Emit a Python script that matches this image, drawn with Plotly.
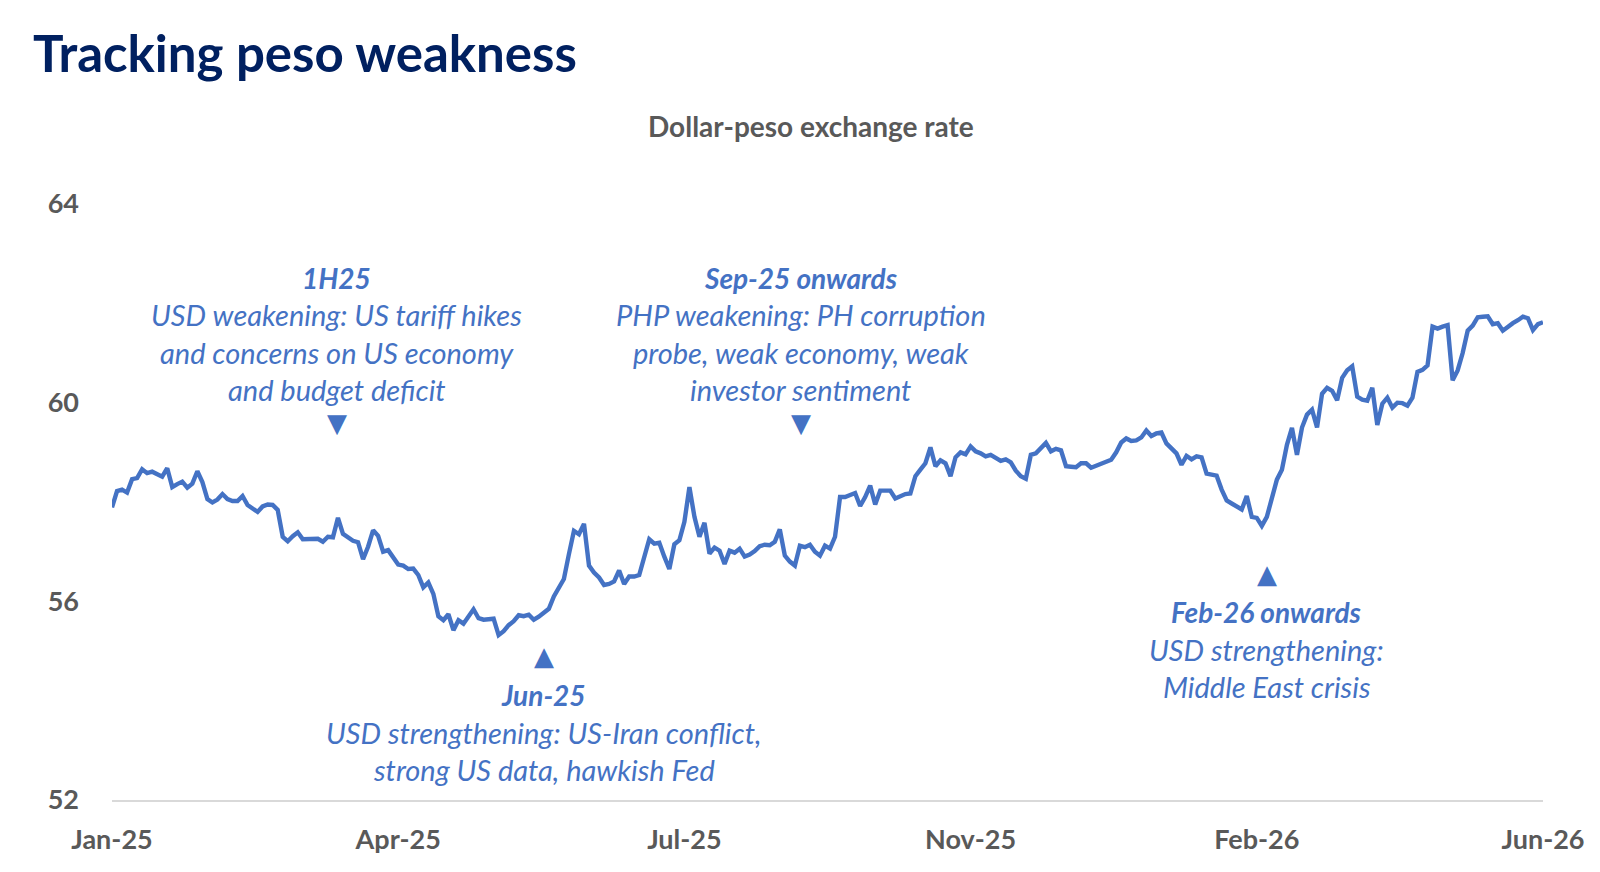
import plotly.graph_objects as go

# Dollar-peso rate, one reading per trading-day step
usd_php = [
    57.89, 58.22, 58.25, 58.19, 58.46, 58.48, 58.66, 58.58, 58.61, 58.56,
    58.51, 58.68, 58.30, 58.36, 58.41, 58.29, 58.37, 58.62, 58.40, 58.06,
    57.99, 58.05, 58.16, 58.06, 58.02, 58.02, 58.12, 57.94, 57.88, 57.80,
    57.91, 57.95, 57.94, 57.84, 57.30, 57.21, 57.31, 57.39, 57.25, 57.26,
    57.26, 57.26, 57.20, 57.30, 57.29, 57.68, 57.36, 57.30, 57.22, 57.19,
    56.85, 57.10, 57.43, 57.32, 57.00, 57.03, 56.90, 56.74, 56.72, 56.65,
    56.66, 56.53, 56.28, 56.38, 56.15, 55.70, 55.62, 55.74, 55.42, 55.62,
    55.55, 55.70, 55.84, 55.66, 55.63, 55.64, 55.65, 55.32, 55.40, 55.52,
    55.60, 55.72, 55.70, 55.73, 55.63, 55.69, 55.76, 55.85, 56.10, 56.28,
    56.45, 56.95, 57.42, 57.35, 57.56, 56.72, 56.58, 56.48, 56.33, 56.35,
    56.40, 56.62, 56.35, 56.50, 56.50, 56.53, 56.90, 57.25, 57.16, 57.18,
    56.90, 56.65, 57.15, 57.23, 57.60, 58.30, 57.70, 57.30, 57.58, 56.96,
    57.08, 57.02, 56.75, 57.02, 56.98, 57.06, 56.90, 56.94, 57.01, 57.11,
    57.14, 57.13, 57.20, 57.45, 56.92, 56.80, 56.72, 57.12, 57.09, 57.14,
    57.00, 56.92, 57.12, 57.06, 57.30, 58.10, 58.10, 58.13, 58.18, 57.92,
    58.10, 58.33, 57.95, 58.23, 58.23, 58.23, 58.07, 58.12, 58.16, 58.17,
    58.52, 58.65, 58.78, 59.10, 58.72, 58.84, 58.78, 58.52, 58.90, 59.00,
    58.96, 59.12, 59.02, 58.98, 58.92, 58.95, 58.88, 58.83, 58.86, 58.80,
    58.63, 58.52, 58.47, 58.95, 58.98, 59.09, 59.19, 59.02, 59.07, 59.04,
    58.72, 58.71, 58.70, 58.78, 58.78, 58.69, 58.73, 58.78, 58.80, 58.85,
    59.00, 59.20, 59.28, 59.23, 59.24, 59.30, 59.44, 59.33, 59.38, 59.40,
    59.18, 59.07, 58.98, 58.75, 58.93, 58.86, 58.92, 58.90, 58.57, 58.55,
    58.53, 58.25, 58.03, 57.97, 57.90, 57.85, 58.12, 57.70, 57.68, 57.52,
    57.70, 58.08, 58.45, 58.65, 59.15, 59.49, 58.95, 59.50, 59.76, 59.86,
    59.50, 60.18, 60.30, 60.24, 60.05, 60.50, 60.65, 60.73, 60.12, 60.06,
    60.04, 60.30, 59.55, 59.98, 60.10, 59.90, 60.00, 59.99, 59.94, 60.10,
    60.62, 60.66, 60.75, 61.53, 61.49, 61.53, 61.56, 60.45, 60.65, 61.00,
    61.45, 61.55, 61.72, 61.73, 61.74, 61.58, 61.60, 61.45, 61.53, 61.60,
    61.66, 61.73, 61.70, 61.46, 61.58, 61.62,
]
days = list(range(len(usd_php)))

tick_labels = ['Jan-25', 'Apr-25', 'Jul-25', 'Nov-25', 'Feb-26', 'Jun-26']
tick_days = [0, 57, 114, 171, 228, 285]
y_ticks = [52, 56, 60, 64]

# Annotation blocks: heading, body lines, marker direction
note_heads = ['1H25', 'Sep-25 onwards', 'Jun-25', 'Feb-26 onwards']
note_bodies = [
    ['USD weakening: US tariff hikes', 'and concerns on US economy', 'and budget deficit'],
    ['PHP weakening: PH corruption', 'probe, weak economy, weak', 'investor sentiment'],
    ['USD strengthening: US-Iran conflict,', 'strong US data, hawkish Fed'],
    ['USD strengthening:', 'Middle East crisis'],
]
# placement in axis units (day index, rate) – text above (down arrow) or below (up arrow)
note_x = [44.8, 137.2, 86.0, 230.0]
note_top = [62.52, 62.52, 54.11, 55.79]
note_marker = [59.60, 59.60, 54.90, 56.55]
note_arrow = ['▼', '▼', '▲', '▲']
line_gap = 0.75

BLUE = '#4472C4'
GREY = '#595959'
FONT = 'Lato'

fig = go.Figure()
fig.add_trace(go.Scatter(x=days, y=usd_php, mode='lines',
                         line=dict(color=BLUE, width=4.4),
                         hoverinfo='y', showlegend=False))

for head, body, nx, top, my, arrow in zip(note_heads, note_bodies, note_x,
                                          note_top, note_marker, note_arrow):
    fig.add_annotation(x=nx, y=top, text='<b><i>' + head + '</i></b>',
                       showarrow=False, font=dict(family=FONT, size=28, color=BLUE))
    for k, line in enumerate(body):
        fig.add_annotation(x=nx, y=top - line_gap * (k + 1), text='<i>' + line + '</i>',
                           showarrow=False, font=dict(family=FONT, size=29, color=BLUE))
    fig.add_annotation(x=nx, y=my, text=arrow, showarrow=False,
                       font=dict(family='DejaVu Sans', size=26, color=BLUE))

fig.add_annotation(xref='paper', yref='paper', x=0.4885, y=1.163,
                   text='<b>Dollar-peso exchange rate</b>', showarrow=False,
                   font=dict(family=FONT, size=28, color=GREY))

fig.update_layout(
    width=1600, height=872,
    margin=dict(l=112, r=57, t=204, b=72),
    paper_bgcolor='white', plot_bgcolor='white',
    title=dict(text='<b>Tracking peso weakness</b>', xref='container', yref='container',
               x=33 / 1600, xanchor='left', y=1 - 54 / 872, yanchor='middle',
               font=dict(family=FONT, size=51, color='#002060')),
    font=dict(family=FONT),
)
fig.update_xaxes(range=[0, len(usd_php) - 1], tickvals=tick_days, ticktext=tick_labels,
                 showgrid=False, zeroline=False, showline=True, linecolor='#D9D9D9',
                 linewidth=1.5, ticks='', ticklabelstandoff=15,
                 tickfont=dict(family=FONT, size=27, color=GREY, weight='bold'))
fig.update_yaxes(range=[52, 64], tickvals=y_ticks, showgrid=False, zeroline=False,
                 showline=False, ticks='', ticklabelstandoff=32,
                 tickfont=dict(family=FONT, size=27, color=GREY, weight='bold'))

fig.write_html('out.html', config={'displayModeBar': False},
               post_script="document.body.style.margin='0';")
